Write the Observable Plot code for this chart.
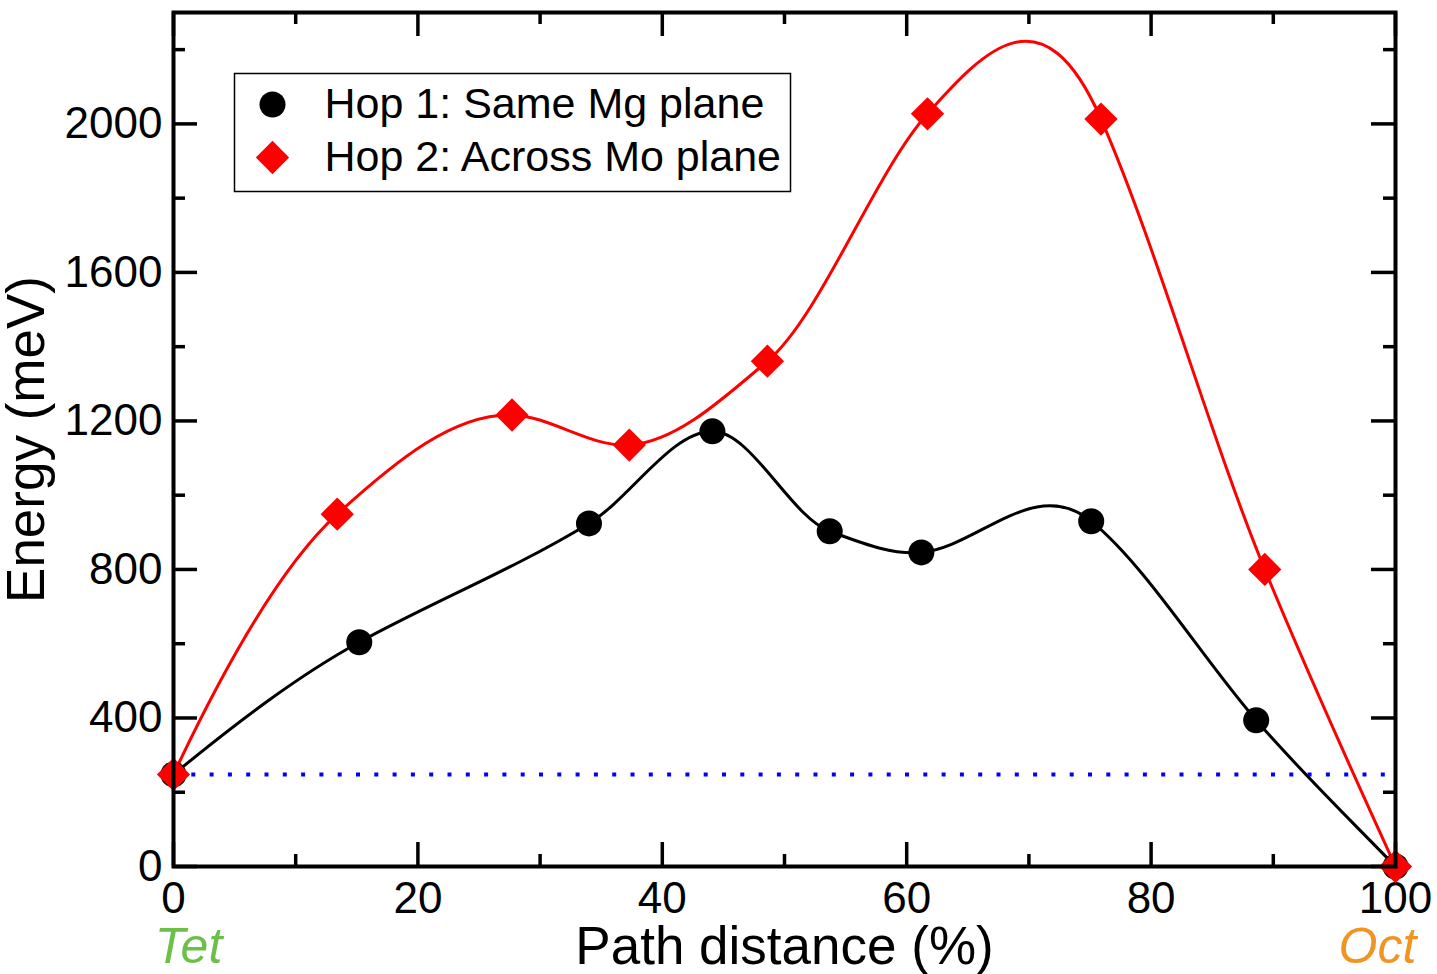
<!DOCTYPE html>
<html>
<head>
<meta charset="utf-8">
<script src="https://cdn.jsdelivr.net/npm/d3@7"></script>
<script src="https://cdn.jsdelivr.net/npm/@observablehq/plot@0.6"></script>
<style>
  html, body { margin: 0; padding: 0; background: #fff; }
  #chart svg { display: block; }
</style>
</head>
<body>
<div id="chart"></div>
<script>
// ---- Data ----
const hop1X = [0, 15.2, 34.0, 44.1, 53.7, 61.2, 75.1, 88.6, 100];
const hop1Y = [248, 604, 924, 1172, 903, 846, 930, 394, 0];
// slope of the drawn curve at each point (meV per %)
const hop1Slope = [27, 18, 20, 0, -12, 3, -27, -38, -34];
const hop2X = [0, 13.4, 27.7, 37.3, 48.6, 61.7, 75.9, 89.3, 100];
const hop2Y = [248, 949, 1216, 1135, 1361, 2027, 2013, 800, 0];
const hop2Slope = [70, 30, -1, 2, 28, 37, -75, -80, -72];
const refEnergy = 248;
const seriesNames = ["Hop 1: Same Mg plane", "Hop 2: Across Mo plane"];
const xMajor = [0, 20, 40, 60, 80, 100];
const xMinor = [10, 30, 50, 70, 90];
const yMajor = [0, 400, 800, 1200, 1600, 2000];
const yMinor = [200, 600, 1000, 1400, 1800, 2200];
const xDomain = [0, 100];
const yDomain = [0, 2300];
const xTitle = "Path distance (%)";
const yTitle = "Energy (meV)";
const startLabel = "Tet", endLabel = "Oct";

const hop1 = hop1X.map((x, i) => ({x, y: hop1Y[i]}));
const hop2 = hop2X.map((x, i) => ({x, y: hop2Y[i]}));

const W = 1437, H = 974;
const mL = 173, mR = 42, mT = 12, mB = 108;
const fw = W - mL - mR, fh = H - mT - mB;
const majLen = 24, minLen = 12;
const font = "Liberation Sans, Arial, Helvetica, sans-serif";

// Cubic Hermite curve through the points with given slopes (d3 curve factory)
function hermiteCurve(slopes) {
  const r = (-fh / (yDomain[1] - yDomain[0])) / (fw / (xDomain[1] - xDomain[0]));
  return function(context) {
    let pts = [];
    return {
      areaStart() {}, areaEnd() {},
      lineStart() { pts = []; },
      point(x, y) { pts.push([+x, +y]); },
      lineEnd() {
        if (!pts.length) return;
        context.moveTo(pts[0][0], pts[0][1]);
        for (let i = 0; i < pts.length - 1; i++) {
          const [x0, y0] = pts[i], [x1, y1] = pts[i + 1];
          const h = (x1 - x0) / 3;
          context.bezierCurveTo(x0 + h, y0 + h * slopes[i] * r,
                                x1 - h, y1 - h * slopes[i + 1] * r, x1, y1);
        }
      }
    };
  };
}

const chart = Plot.plot({
  width: W, height: H,
  marginLeft: mL, marginRight: mR, marginTop: mT, marginBottom: mB,
  style: {fontFamily: font, background: "#fff", overflow: "visible", color: "#000"},
  x: {domain: xDomain},
  y: {domain: yDomain},
  marks: [
    // tick labels
    Plot.axisX({ticks: xMajor, tickSize: 0, tickPadding: 15, fontSize: 44, label: null, tickFormat: d => String(d)}),
    Plot.axisY({ticks: yMajor, tickSize: 0, tickPadding: 11, fontSize: 44, label: null, tickFormat: d => String(d)}),
    // inward ticks
    Plot.tickX(xMajor, {x: d => d, insetTop: fh - majLen, strokeWidth: 3.5}),
    Plot.tickX(xMinor, {x: d => d, insetTop: fh - minLen, strokeWidth: 3.5}),
    Plot.tickX(xMajor, {x: d => d, insetBottom: fh - majLen, strokeWidth: 3.5}),
    Plot.tickX(xMinor, {x: d => d, insetBottom: fh - minLen, strokeWidth: 3.5}),
    Plot.tickY(yMajor, {y: d => d, insetRight: fw - majLen, strokeWidth: 3.5}),
    Plot.tickY(yMinor, {y: d => d, insetRight: fw - minLen, strokeWidth: 3.5}),
    Plot.tickY(yMajor, {y: d => d, insetLeft: fw - majLen, strokeWidth: 3.5}),
    Plot.tickY(yMinor, {y: d => d, insetLeft: fw - minLen, strokeWidth: 3.5}),
    // reference dotted line
    Plot.ruleY([refEnergy], {x1: 0, x2: 100, stroke: "#0000ff", strokeWidth: 4, strokeDasharray: "4,14.3", strokeLinecap: "butt"}),
    // curves
    Plot.line(hop1, {x: "x", y: "y", curve: hermiteCurve(hop1Slope), stroke: "#000", strokeWidth: 3}),
    Plot.line(hop2, {x: "x", y: "y", curve: hermiteCurve(hop2Slope), stroke: "#ff0000", strokeWidth: 3}),
    Plot.dot(hop1, {x: "x", y: "y", r: 13, fill: "#000", symbol: "circle"}),
    Plot.dot(hop2, {x: "x", y: "y", r: 15, fill: "#ff0000", symbol: "diamond2"}),
    // frame
    Plot.frame({stroke: "#000", strokeWidth: 4}),
    // legend
    Plot.frame({insetLeft: 61, insetTop: 61, insetRight: 605, insetBottom: 675, fill: "#fff", stroke: "#000", strokeWidth: 1.5}),
    Plot.dot([0], {frameAnchor: "top-left", dx: 99, dy: 92, r: 13, fill: "#000", symbol: "circle"}),
    Plot.dot([0], {frameAnchor: "top-left", dx: 99, dy: 145, r: 15, fill: "#ff0000", symbol: "diamond2"}),
    Plot.text([seriesNames[0]], {text: d => d, frameAnchor: "top-left", dx: 151, dy: 92, textAnchor: "start", lineAnchor: "middle", fontSize: 43}),
    Plot.text([seriesNames[1]], {text: d => d, frameAnchor: "top-left", dx: 151, dy: 145, textAnchor: "start", lineAnchor: "middle", fontSize: 43}),
    // axis titles
    Plot.text([xTitle], {text: d => d, frameAnchor: "bottom", dy: 81, lineAnchor: "middle", fontSize: 53}),
    Plot.text([yTitle], {text: d => d, frameAnchor: "left", textAnchor: "middle", dx: -146, rotate: -90, lineAnchor: "middle", fontSize: 53}),
    // Tet / Oct labels
    Plot.text([startLabel], {text: d => d, frameAnchor: "bottom-left", textAnchor: "middle", dx: 15, dy: 80, lineAnchor: "middle", fontSize: 50, fontStyle: "italic", fill: "#6cbf47"}),
    Plot.text([endLabel], {text: d => d, frameAnchor: "bottom-right", textAnchor: "middle", dx: -18, dy: 80, lineAnchor: "middle", fontSize: 50, fontStyle: "italic", fill: "#f29422"})
  ]
});
document.getElementById("chart").appendChild(chart);
</script>
</body>
</html>
